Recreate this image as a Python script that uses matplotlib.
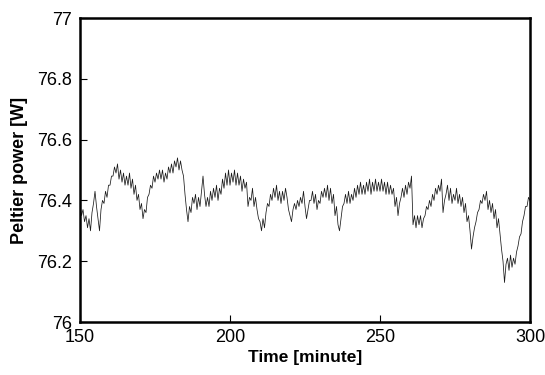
import matplotlib
matplotlib.use("Agg")
import matplotlib.pyplot as plt
import numpy as np

plt.rcParams['font.family'] = ['Liberation Sans', 'DejaVu Sans']

# time axis, half-minute samples from 150 to 300
time_min = np.arange(150, 300.01, 0.5)

# Peltier power [W]
power = [
    76.39, 76.35, 76.37, 76.33, 76.35, 76.31, 76.34, 76.30, 76.36, 76.39,
    76.43, 76.38, 76.34, 76.30, 76.37, 76.40, 76.39, 76.43, 76.41, 76.45,
    76.45, 76.48, 76.48, 76.51, 76.49, 76.52, 76.47, 76.50, 76.46, 76.49,
    76.45, 76.48, 76.45, 76.49, 76.44, 76.47, 76.42, 76.45, 76.40, 76.42,
    76.37, 76.39, 76.34, 76.37, 76.36, 76.41, 76.42, 76.45, 76.44, 76.48,
    76.46, 76.49, 76.47, 76.50, 76.47, 76.50, 76.46, 76.49, 76.47, 76.51,
    76.49, 76.52, 76.49, 76.53, 76.51, 76.54, 76.50, 76.53, 76.50, 76.48,
    76.42, 76.37, 76.33, 76.38, 76.36, 76.41, 76.39, 76.42, 76.37, 76.41,
    76.38, 76.43, 76.48, 76.42, 76.38, 76.41, 76.38, 76.43, 76.40, 76.44,
    76.41, 76.45, 76.40, 76.44, 76.42, 76.47, 76.44, 76.49, 76.45, 76.50,
    76.45, 76.49, 76.46, 76.50, 76.45, 76.49, 76.45, 76.48, 76.43, 76.47,
    76.44, 76.46, 76.38, 76.41, 76.40, 76.44, 76.38, 76.41, 76.37, 76.34,
    76.33, 76.30, 76.34, 76.31, 76.36, 76.39, 76.38, 76.42, 76.40, 76.44,
    76.41, 76.45, 76.40, 76.43, 76.39, 76.43, 76.40, 76.44, 76.41, 76.37,
    76.35, 76.33, 76.37, 76.39, 76.37, 76.40, 76.38, 76.41, 76.39, 76.43,
    76.38, 76.34, 76.37, 76.40, 76.40, 76.43, 76.39, 76.42, 76.37, 76.40,
    76.39, 76.43, 76.41, 76.44, 76.41, 76.45, 76.40, 76.44, 76.39, 76.42,
    76.35, 76.38, 76.32, 76.30, 76.34, 76.38, 76.39, 76.42, 76.39, 76.43,
    76.39, 76.42, 76.40, 76.44, 76.41, 76.45, 76.42, 76.46, 76.42, 76.45,
    76.42, 76.46, 76.43, 76.47, 76.42, 76.46, 76.43, 76.47, 76.43, 76.46,
    76.43, 76.47, 76.43, 76.46, 76.42, 76.46, 76.42, 76.45, 76.42, 76.44,
    76.38, 76.41, 76.35, 76.39, 76.41, 76.44, 76.41, 76.45, 76.42, 76.46,
    76.44, 76.48, 76.32, 76.35, 76.31, 76.35, 76.32, 76.35, 76.31, 76.34,
    76.35, 76.38, 76.37, 76.40, 76.38, 76.42, 76.40, 76.44, 76.42, 76.45,
    76.43, 76.47, 76.36, 76.40, 76.42, 76.45, 76.40, 76.44, 76.39, 76.42,
    76.40, 76.44, 76.39, 76.42, 76.38, 76.41, 76.36, 76.39, 76.33, 76.35,
    76.30, 76.24, 76.28, 76.31, 76.33, 76.36, 76.37, 76.40, 76.39, 76.42,
    76.40, 76.43, 76.37, 76.40, 76.36, 76.39, 76.34, 76.37, 76.31, 76.34,
    76.29, 76.24, 76.20, 76.13, 76.19, 76.21, 76.17, 76.22, 76.18, 76.21,
    76.19, 76.23, 76.25, 76.28, 76.29, 76.33, 76.35, 76.38, 76.38, 76.41,
    76.40,
]

x_ticks = [150, 200, 250, 300]
y_ticks = [76, 76.2, 76.4, 76.6, 76.8, 77]
y_labels = ['76', '76.2', '76.4', '76.6', '76.8', '77']

fig = plt.figure(figsize=(5.45, 3.75), dpi=100)
ax = fig.add_axes([0.1468, 0.1413, 0.8257, 0.8107])

ax.plot(time_min, power, color='#1a1a1a', linewidth=0.55)

ax.set_xlim(150, 300)
ax.set_ylim(76, 77)
ax.set_xticks(x_ticks)
ax.set_yticks(y_ticks)
ax.set_yticklabels(y_labels)
ax.tick_params(direction='in', length=5, width=0.8, labelsize=13,
               top=False, right=False)
ax.tick_params(axis='y', pad=6)
ax.tick_params(axis='x', pad=5)

for s in ax.spines.values():
    s.set_linewidth(1.8)

ax.set_xlabel('Time [minute]', fontsize=12.5, fontweight='bold', labelpad=3)
ax.set_ylabel('Peltier power [W]', fontsize=13, fontweight='bold', labelpad=6)

fig.savefig('out.png', dpi=100)
